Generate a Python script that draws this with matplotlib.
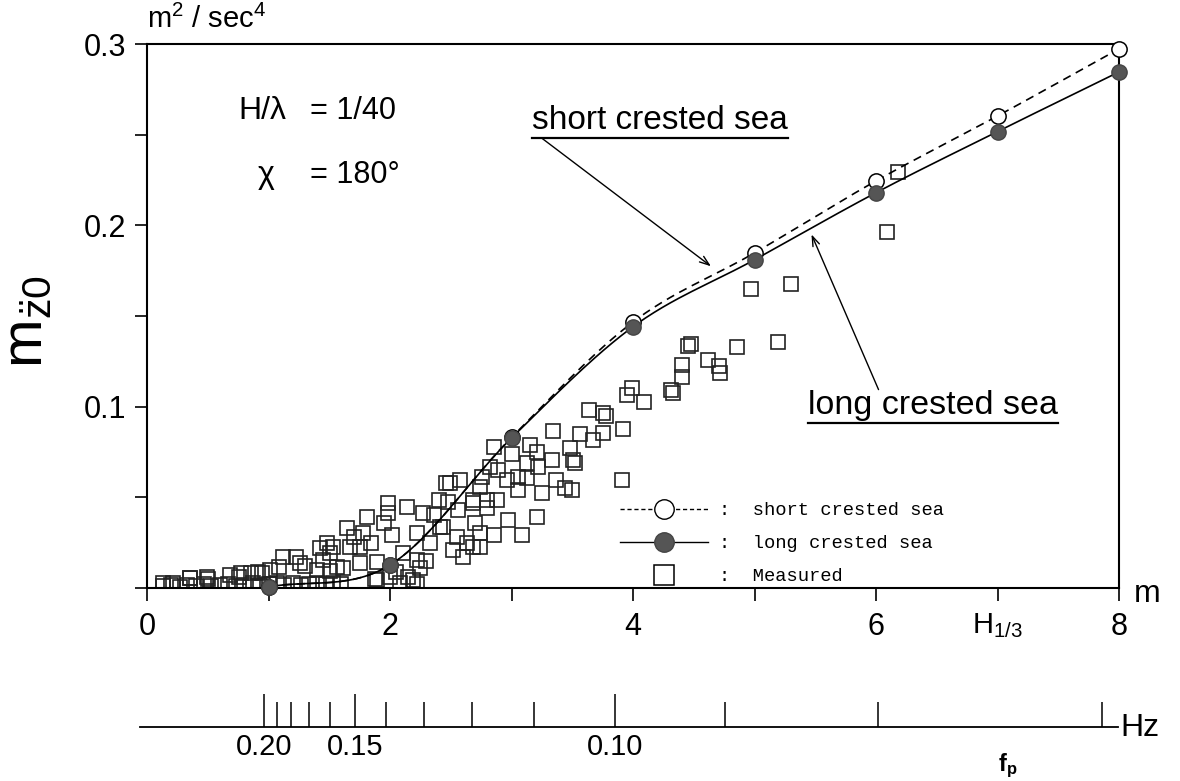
import numpy as np
import matplotlib
matplotlib.use('Agg')
import matplotlib.pyplot as plt
from matplotlib.lines import Line2D

plt.rcParams['font.family'] = ['Liberation Sans', 'DejaVu Sans']
plt.rcParams['mathtext.fontset'] = 'custom'
plt.rcParams['mathtext.rm'] = 'Liberation Sans'
plt.rcParams['mathtext.it'] = 'Liberation Sans:italic'

# calculated m_z0 vs significant wave height
h_calc = [1, 2, 3, 4, 5, 6, 7, 8]
m_short = [0.0006, 0.0127, 0.0830, 0.1467, 0.1848, 0.2245, 0.2603, 0.2973]
m_long = [0.0006, 0.0127, 0.0827, 0.1441, 0.1810, 0.2180, 0.2517, 0.2846]

# measured values
meas_h = [6.18, 6.09, 5.30, 4.97, 5.19, 4.86, 4.45, 4.48, 4.40, 4.40, 4.62, 4.71,
          4.72, 4.31, 4.33, 3.99, 3.95, 4.09, 3.64, 3.78, 3.75, 3.92, 3.75, 3.34,
          3.56, 3.67, 3.48, 3.51, 3.52, 3.91, 3.21, 3.09, 2.97, 2.86, 2.86, 3.15,
          3.21, 3.13, 3.22, 3.33, 3.13, 3.25, 3.37, 3.44, 3.50, 3.05, 2.89, 2.82,
          2.76, 2.96, 2.74, 2.58, 2.49, 2.80, 2.88, 2.68, 2.80, 3.05, 2.70, 2.74,
          2.56, 2.48, 2.40, 2.41, 2.27, 2.14, 1.98, 1.98, 2.02, 2.22, 2.33, 2.55,
          2.63, 2.74, 2.52, 2.46, 2.68, 2.44, 2.68, 2.60, 1.81, 1.78, 1.70, 1.67,
          1.53, 1.51, 1.45, 1.75, 1.84, 1.89, 1.75, 1.56, 2.11, 2.22, 2.25, 2.19,
          2.00, 1.89, 1.12, 1.23, 1.26, 1.42, 1.48, 1.09, 1.01, 0.91, 0.77, 0.68,
          0.49, 0.35, 0.21, 0.13, 0.13, 0.20, 0.27, 0.33, 0.40, 0.47, 0.53, 0.60,
          0.67, 0.73, 0.80, 0.87, 0.93, 1.00, 1.07, 1.13, 1.20, 1.27, 1.33, 1.40,
          1.47, 1.53, 1.60, 0.35, 0.50, 0.76, 0.86, 0.95, 1.30, 1.40, 1.51, 1.61,
          1.88, 2.08, 2.22, 2.05, 2.15, 3.00, 1.65, 1.95, 2.30, 2.36]
meas_m = [0.2295, 0.1964, 0.1677, 0.1649, 0.1357, 0.1329, 0.1335, 0.1346, 0.1230,
          0.1164, 0.1258, 0.1224, 0.1186, 0.1092, 0.1076, 0.1103, 0.1065, 0.1026,
          0.0982, 0.0949, 0.0965, 0.0877, 0.0855, 0.0866, 0.0849, 0.0816, 0.0772,
          0.0706, 0.0689, 0.0596, 0.0392, 0.0292, 0.0375, 0.0292, 0.0778, 0.0789,
          0.0750, 0.0689, 0.0667, 0.0706, 0.0607, 0.0524, 0.0596, 0.0552, 0.0541,
          0.0612, 0.0651, 0.0667, 0.0612, 0.0596, 0.0557, 0.0596, 0.0579, 0.0485,
          0.0485, 0.0485, 0.0441, 0.0541, 0.0359, 0.0303, 0.0430, 0.0474, 0.0485,
          0.0336, 0.0414, 0.0447, 0.0469, 0.0414, 0.0292, 0.0303, 0.0248, 0.0281,
          0.0248, 0.0226, 0.0210, 0.0579, 0.0469, 0.0336, 0.0226, 0.0171, 0.0392,
          0.0303, 0.0281, 0.0226, 0.0226, 0.0193, 0.0154, 0.0226, 0.0248, 0.0143,
          0.0138, 0.0116, 0.0193, 0.0154, 0.0110, 0.0044, 0.0061, 0.0044, 0.0171,
          0.0171, 0.0138, 0.0221, 0.0248, 0.0116, 0.0099, 0.0088, 0.0083, 0.0072,
          0.0061, 0.0055, 0.0028, 0.0028, 0.0010, 0.0015, 0.0008, 0.0018, 0.0012,
          0.0020, 0.0010, 0.0016, 0.0022, 0.0012, 0.0018, 0.0025, 0.0014, 0.0020,
          0.0030, 0.0018, 0.0026, 0.0015, 0.0022, 0.0030, 0.0020, 0.0028, 0.0024,
          0.0055, 0.0050, 0.0060, 0.0080, 0.0085, 0.0120, 0.0100, 0.0095, 0.0110,
          0.0050, 0.0030, 0.0020, 0.0090, 0.0060, 0.0740, 0.0330, 0.0360, 0.0150,
          0.0400]

# peak frequency scale under the H1/3 axis
f_major = [0.20, 0.15, 0.10]
f_minor = [0.19, 0.18, 0.17, 0.16, 0.14, 0.13, 0.12, 0.11, 0.09, 0.08, 0.07]
H_PER_F2 = 0.0385


def smooth(x, y, n=30):
    # cubic hermite through the points, slopes from neighbours
    x = np.asarray(x, float)
    y = np.asarray(y, float)
    d = np.gradient(y, x)
    xs, ys = [], []
    for i in range(len(x) - 1):
        h = x[i + 1] - x[i]
        t = np.linspace(0, 1, n)
        h00 = 2 * t**3 - 3 * t**2 + 1
        h10 = t**3 - 2 * t**2 + t
        h01 = -2 * t**3 + 3 * t**2
        h11 = t**3 - t**2
        xs.append(x[i] + t * h)
        ys.append(h00 * y[i] + h10 * h * d[i] + h01 * y[i + 1] + h11 * h * d[i + 1])
    return np.concatenate(xs), np.concatenate(ys)


fig = plt.figure(figsize=(11.8, 7.81), dpi=100)
ax = fig.add_axes([147 / 1180, 1 - 588 / 781, 972 / 1180, 544 / 781])

ax.plot(meas_h, meas_m, 's', ms=10, mfc='none', mec='#222222', mew=1.2, zorder=2)

xs, ys = smooth(h_calc, m_short)
ax.plot(xs, ys, color='k', lw=1.2, ls=(0, (5, 3.5)), zorder=3)
xl, yl = smooth(h_calc, m_long)
ax.plot(xl, yl, color='k', lw=1.2, zorder=3)
ax.plot(h_calc, m_short, 'o', ms=11, mfc='white', mec='k', mew=1.1, zorder=4, clip_on=False)
ax.plot(h_calc, m_long, 'o', ms=11, mfc='#555555', mec='#444444', mew=1, zorder=5, clip_on=False)

ax.set_xlim(0, 8)
ax.set_ylim(0, 0.3)
ax.set_xticks([0, 2, 4, 6, 8])
ax.set_xticks([1, 3, 5, 7], minor=True)
ax.set_yticks([0.1, 0.2, 0.3])
ax.set_yticklabels(['0.1', '0.2', '0.3'])
ax.set_yticks([0, 0.05, 0.15, 0.25], minor=True)
ax.tick_params(which='both', direction='out', length=9, width=1.2, labelsize=22, pad=6)
ax.tick_params(axis='x', pad=8)
for s in ax.spines.values():
    s.set_linewidth(1.5)

# legend
h1 = Line2D([], [], color='k', lw=1, ls=(0, (3, 2)), marker='o', ms=14, mfc='white', mec='k')
h2 = Line2D([], [], color='k', lw=1, marker='o', ms=14, mfc='#555555', mec='#444444')
h3 = Line2D([], [], ls='none', marker='s', ms=15, mfc='none', mec='k', mew=1.1)
ax.legend([h1, h2, h3], [':  short crested sea', ':  long crested sea', ':  Measured'],
          loc='upper left', bbox_to_anchor=(620 / 1180, 1 - 502 / 781),
          bbox_transform=fig.transFigure, frameon=False, handlelength=4.7,
          handletextpad=0.6, labelspacing=0.85, borderpad=0, borderaxespad=0,
          prop={'family': 'Liberation Mono', 'size': 13.5})

# axis annotations
ax.annotate(r'm$^2$ / sec$^4$', xy=(0, 1), xycoords='axes fraction', xytext=(0, 7),
            textcoords='offset points', ha='left', va='bottom', fontsize=21)
ax.annotate('m', xy=(8, 0), xytext=(20, -4), textcoords='offset points',
            ha='center', va='center', fontsize=23, annotation_clip=False)
ax.annotate(r'H$_{\mathregular{1/3}}$', xy=(7, 0), xytext=(0, -27), textcoords='offset points',
            ha='center', va='center', fontsize=21, annotation_clip=False)
fig.text(27 / 1180, 1 - 322 / 781, r'$\mathregular{m}_{\mathregular{\ddot{z}0}}$',
         rotation=90, ha='center', va='center', fontsize=42)

ax.text(0.0936, 0.877, 'H/\u03bb', transform=ax.transAxes, ha='left', va='center', fontsize=23)
ax.text(0.168, 0.877, '= 1/40', transform=ax.transAxes, ha='left', va='center', fontsize=22)
ax.text(0.114, 0.759, '\u03c7', transform=ax.transAxes, ha='left', va='center', fontsize=23)
ax.text(0.168, 0.759, '= 180\u00b0', transform=ax.transAxes, ha='left', va='center', fontsize=22)

t_short = ax.text(0.396, 0.860, 'short crested sea', transform=ax.transAxes,
                  ha='left', va='center', fontsize=24)
t_long = ax.text(0.680, 0.336, 'long crested sea', transform=ax.transAxes,
                 ha='left', va='center', fontsize=24.5)
ax.annotate('', xy=(4.66, 0.1765), xytext=(3.235, 0.2488),
            arrowprops=dict(arrowstyle='->,head_length=0.7,head_width=0.25', lw=1, color='k'))
ax.annotate('', xy=(5.46, 0.1964), xytext=(6.03, 0.108),
            arrowprops=dict(arrowstyle='->,head_length=0.7,head_width=0.25', lw=1, color='k'))

# frequency axis
ax2 = fig.add_axes([140 / 1180, 1 - 727 / 781, 978 / 1180, 0.001])
ax2.set_xlim(-0.058, 7.99)
ax2.patch.set_visible(False)
for s in ['top', 'left', 'right']:
    ax2.spines[s].set_visible(False)
ax2.spines['bottom'].set_linewidth(1.3)
ax2.set_yticks([])
ax2.set_xticks([H_PER_F2 / f**2 for f in f_major])
ax2.set_xticklabels(['%.2f' % f for f in f_major])
ax2.set_xticks([H_PER_F2 / f**2 for f in f_minor], minor=True)
ax2.tick_params(axis='x', which='major', direction='in', length=24, width=1.1,
                labelsize=21, pad=4)
ax2.tick_params(axis='x', which='minor', direction='in', length=18, width=1.1)
fig.text(1120 / 1180, 1 - 728 / 781, 'Hz', ha='left', va='center', fontsize=23)
fig.text(1008 / 1180, 1 - 766 / 781, r'f$_{\mathregular{p}}$', ha='center', va='center',
         fontsize=17, fontweight='bold')

# underline the curve labels
fig.canvas.draw()
inv = fig.transFigure.inverted()
for t in [t_short, t_long]:
    bb = t.get_window_extent()
    (x0, y0), (x1, _) = inv.transform([(bb.x0, bb.y0 - 2), (bb.x1, bb.y0 - 2)])
    fig.add_artist(Line2D([x0, x1], [y0, y0], transform=fig.transFigure, color='k', lw=1.6))

fig.savefig('out.png', dpi=100)
